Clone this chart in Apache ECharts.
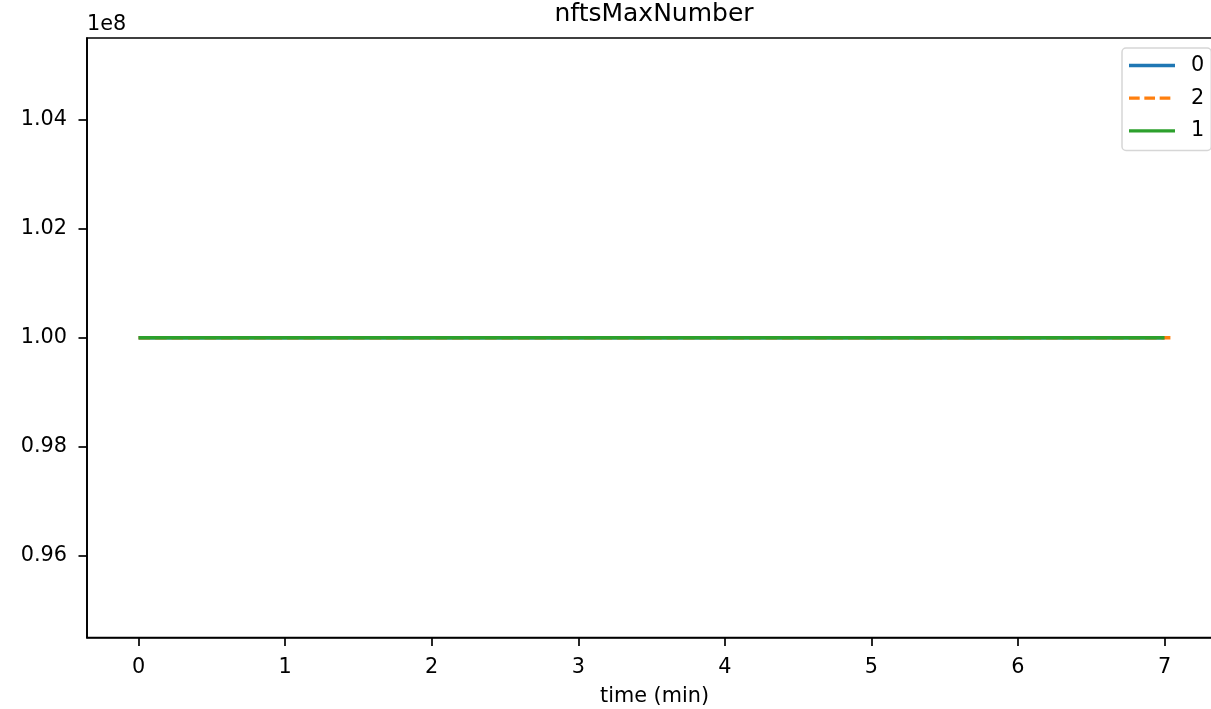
<!DOCTYPE html>
<html>
<head>
<meta charset="utf-8">
<script src="https://cdn.jsdelivr.net/npm/echarts@6/dist/echarts.min.js"></script>
<style>html,body{margin:0;padding:0;background:#fff}#c{width:1211px;height:709px}</style>
</head>
<body>
<div id="c"></div>
<script>
const seriesNames = ['0', '2', '1'];
const time0 = [0, 1, 2, 3, 4, 5, 6, 7.0];
const values0 = [1e8, 1e8, 1e8, 1e8, 1e8, 1e8, 1e8, 1e8];
const time2 = [0, 1, 2, 3, 4, 5, 6, 7.04];
const values2 = [1e8, 1e8, 1e8, 1e8, 1e8, 1e8, 1e8, 1e8];
const time1 = [0, 1, 2, 3, 4, 5, 6, 7.0];
const values1 = [1e8, 1e8, 1e8, 1e8, 1e8, 1e8, 1e8, 1e8];
const xTicks = [0, 1, 2, 3, 4, 5, 6, 7];
const yTicks = [0.96e8, 0.98e8, 1.00e8, 1.02e8, 1.04e8];
const xRange = [-0.352, 7.392];
const yRange = [0.945e8, 1.055e8];

const FONT = 'DejaVu Sans';
const zip = (t, v) => t.map((x, i) => [x, v[i]]);
const solidIcon = 'path://M0,0h46v3.4h-46z';
const dashIcon = 'path://M0,0h11.5v3.4h-11.5z M16.5,0h11.5v3.4h-11.5z M33,0h11.5v3.4h-11.5z M49.5,0h0v3.4h0z';

const chart = echarts.init(document.getElementById('c'), null, {renderer: 'canvas'});
chart.setOption({
  animation: false,
  backgroundColor: '#ffffff',
  grid: {left: 87, top: 38, width: 1135, height: 599.5, outerBoundsMode: 'none', containLabel: false, show: true, borderColor: '#000', borderWidth: 1.7, backgroundColor: 'transparent'},
  xAxis: {
    type: 'value', min: xRange[0], max: xRange[1],
    axisLine: {show: true, onZero: false, lineStyle: {color: '#000', width: 1.7}},
    axisTick: {show: true, length: 8.5, inside: false, customValues: xTicks, lineStyle: {color: '#000', width: 1.7}},
    axisLabel: {customValues: xTicks, color: '#000', fontFamily: FONT, fontSize: 20.8, margin: 20, formatter: v => String(v)},
    splitLine: {show: false}
  },
  yAxis: {
    type: 'value', min: yRange[0], max: yRange[1],
    axisLine: {show: true, onZero: false, lineStyle: {color: '#000', width: 1.7}},
    axisTick: {show: true, length: 8.5, inside: false, customValues: yTicks, lineStyle: {color: '#000', width: 1.7}},
    axisLabel: {customValues: yTicks, color: '#000', fontFamily: FONT, fontSize: 20.8, margin: 20, formatter: v => (v / 1e8).toFixed(2)},
    splitLine: {show: false}
  },
  legend: {
    orient: 'vertical', left: 1122, top: 48,
    padding: [7, 7, 9, 7],
    itemWidth: 46, itemHeight: 3.4, itemGap: 11.7,
    backgroundColor: 'rgba(255,255,255,0.8)',
    borderColor: '#d6d6d6', borderWidth: 1.5, borderRadius: 4,
    textStyle: {color: '#000', fontFamily: FONT, fontSize: 20.8, lineHeight: 20, padding: [0, 0, 0, 11]},
    data: [
      {name: '0', icon: solidIcon},
      {name: '2', icon: dashIcon},
      {name: '1', icon: solidIcon}
    ]
  },
  graphic: [
    {type: 'text', style: {text: 'nftsMaxNumber', x: 654, y: 14, fill: '#000', font: '25px "DejaVu Sans"', align: 'center', verticalAlign: 'middle'}},
    {type: 'text', style: {text: '1e8', x: 87, y: 25, fill: '#000', font: '20.8px "DejaVu Sans"', align: 'left', verticalAlign: 'middle'}},
    {type: 'text', style: {text: 'time (min)', x: 654.5, y: 697, fill: '#000', font: '20.8px "DejaVu Sans"', align: 'center', verticalAlign: 'middle'}}
  ],
  series: [
    {name: '0', type: 'line', data: zip(time0, values0), symbol: 'none', lineStyle: {color: '#1f77b4', width: 3.4}, itemStyle: {color: '#1f77b4'}},
    {name: '2', type: 'line', data: zip(time2, values2), symbol: 'none', lineStyle: {color: '#ff7f0e', width: 3.4, type: [11.5, 5]}, itemStyle: {color: '#ff7f0e'}},
    {name: '1', type: 'line', data: zip(time1, values1), symbol: 'none', lineStyle: {color: '#2ca02c', width: 3.4}, itemStyle: {color: '#2ca02c'}}
  ]
});
</script>
</body>
</html>
